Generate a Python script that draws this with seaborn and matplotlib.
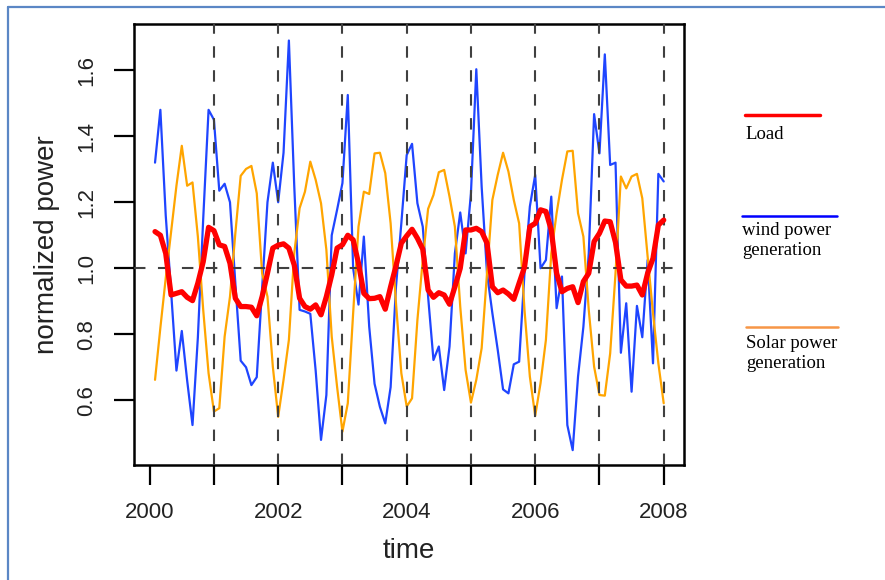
import numpy as np
import pandas as pd
import matplotlib
matplotlib.use("Agg")
import matplotlib.pyplot as plt
from matplotlib.lines import Line2D
import seaborn as sns

# monthly values, Feb 2000 .. Jan 2008 (96 months)
wind = [1.32, 1.48, 1.16, 0.93, 0.69, 0.81, 0.66, 0.525, 0.79, 1.15, 1.48, 1.45,
        1.235, 1.256, 1.20, 0.955, 0.72, 0.70, 0.646, 0.67, 0.94, 1.20, 1.32, 1.20,
        1.35, 1.69, 1.25, 0.874, 0.869, 0.862, 0.69, 0.48, 0.616, 1.10, 1.177, 1.258,
        1.525, 1.0, 0.89, 1.096, 0.823, 0.65, 0.58, 0.53, 0.64, 0.944, 1.136, 1.343,
        1.377, 1.197, 1.126, 0.914, 0.722, 0.763, 0.631, 0.763, 1.045, 1.169, 1.045, 1.227,
        1.603, 1.247, 0.985, 0.864, 0.753, 0.633, 0.621, 0.709, 0.717, 0.985, 1.187, 1.283,
        1.0, 1.025, 1.217, 0.879, 0.975, 0.525, 0.449, 0.672, 0.823, 1.045, 1.467, 1.348,
        1.648, 1.313, 1.32, 0.744, 0.894, 0.626, 0.886, 0.791, 1.025, 0.712, 1.286, 1.263]

solar = [0.662, 0.82, 0.97, 1.11, 1.25, 1.371, 1.25, 1.26, 1.096, 0.874, 0.682, 0.566,
         0.576, 0.793, 0.914, 1.106, 1.28, 1.301, 1.31, 1.227, 0.985, 0.914, 0.702, 0.55,
         0.662, 0.783, 1.045, 1.182, 1.232, 1.323, 1.268, 1.197, 1.056, 0.793, 0.641, 0.505,
         0.591, 0.864, 1.126, 1.232, 1.225, 1.348, 1.35, 1.288, 1.136, 0.894, 0.682, 0.581,
         0.606, 0.843, 1.025, 1.18, 1.222, 1.291, 1.298, 1.217, 1.126, 0.884, 0.692, 0.593,
         0.662, 0.758, 0.985, 1.207, 1.283, 1.35, 1.293, 1.207, 1.136, 0.874, 0.672, 0.553,
         0.652, 0.783, 1.045, 1.167, 1.268, 1.354, 1.356, 1.167, 1.096, 0.874, 0.702, 0.616,
         0.614, 0.742, 0.985, 1.278, 1.242, 1.278, 1.286, 1.212, 1.035, 0.864, 0.712, 0.591]

load = [1.111, 1.10, 1.045, 0.919, 0.924, 0.929, 0.912, 0.902, 0.955, 1.02, 1.124, 1.114,
        1.071, 1.066, 1.015, 0.909, 0.884, 0.884, 0.882, 0.856, 0.914, 0.985, 1.061, 1.07,
        1.074, 1.061, 1.01, 0.909, 0.884, 0.876, 0.889, 0.859, 0.914, 0.98, 1.061, 1.071,
        1.10, 1.086, 1.015, 0.924, 0.908, 0.909, 0.914, 0.876, 0.944, 1.007, 1.076, 1.098,
        1.118, 1.091, 1.058, 0.934, 0.912, 0.926, 0.919, 0.891, 0.944, 1.0, 1.116, 1.116,
        1.121, 1.111, 1.076, 0.944, 0.926, 0.934, 0.922, 0.906, 0.955, 1.003, 1.126, 1.136,
        1.177, 1.172, 1.116, 0.985, 0.929, 0.939, 0.944, 0.896, 0.96, 0.985, 1.081, 1.106,
        1.143, 1.141, 1.078, 0.965, 0.946, 0.946, 0.949, 0.919, 0.985, 1.03, 1.131, 1.146]

years = 2000 + np.arange(1, 97) / 12
year_lines = list(range(2001, 2009))
x_ticks = list(range(2000, 2009))
x_labels = [str(y) if y % 2 == 0 else "" for y in x_ticks]
y_ticks = [0.6, 0.8, 1.0, 1.2, 1.4, 1.6]

df = pd.DataFrame({"time": years, "wind": wind, "solar": solar, "load": load})

sns.set_style("white")
plt.rcParams["font.family"] = ["Liberation Sans", "DejaVu Sans"]

fig = plt.figure(figsize=(8.85, 5.8), dpi=100)
ax = fig.add_axes([0.1514, 0.1983, 0.6215, 0.7603])

sns.lineplot(data=df, x="time", y="wind", ax=ax, color="#1f45ff", lw=1.6, zorder=3)
sns.lineplot(data=df, x="time", y="solar", ax=ax, color="#ffa500", lw=1.6, zorder=3)
sns.lineplot(data=df, x="time", y="load", ax=ax, color="#ff0000", lw=3.8, zorder=5)

for yr in year_lines:
    ax.axvline(yr, color="#404040", lw=1.5, ls=(0, (5.5, 6)), zorder=4)
ax.axhline(1.0, color="#404040", lw=1.5, ls=(0, (5.5, 6)), zorder=4)

ax.set_xlim(1999.756, 2008.316)
ax.set_ylim(0.404, 1.740)
ax.set_xticks(x_ticks)
ax.set_xticklabels(x_labels)
ax.set_yticks(y_ticks)
ax.set_yticklabels([f"{v:.1f}" for v in y_ticks], rotation=90, va="center")
ax.tick_params(axis="both", direction="out", length=14.5, width=1.6, color="black",
               labelsize=16, labelcolor="#222222", pad=12, left=True, bottom=True)
for s in ax.spines.values():
    s.set_color("black")
    s.set_linewidth(1.8)
ax.set_xlabel("time", fontsize=20, color="#222222", labelpad=11)
ax.set_ylabel("normalized power", fontsize=20, color="#222222", labelpad=12)

# hand-drawn legend on the right
W, H = 885, 580
def fx(px):
    return px / W
def fy(py):
    return 1 - py / H

legend_items = [
    ("#ff0000", 2.5, 745, 820, 115, ["Load"], 139),
    ("#0000ff", 1.8, 742, 837, 216, ["wind power", "generation"], 235),
    ("#f79646", 1.8, 746, 838, 327, ["Solar power", "generation"], 348),
]
for col, lw, x0, x1, yl, lines, yb in legend_items:
    fig.add_artist(Line2D([fx(x0), fx(x1)], [fy(yl), fy(yl)], color=col, lw=lw))
    for i, t in enumerate(lines):
        fig.text(fx(x0), fy(yb + i * 20), t, fontsize=13.5, va="baseline", ha="left",
                 family=["Liberation Serif", "DejaVu Serif"], color="black")

# frame around the figure
fig.add_artist(Line2D([fx(8), 1.0], [fy(7), fy(7)], color="#5b87c5", lw=1.6))
fig.add_artist(Line2D([fx(8), fx(8)], [fy(7), 0.0], color="#5b87c5", lw=1.6))

fig.savefig("out.png", dpi=100)
